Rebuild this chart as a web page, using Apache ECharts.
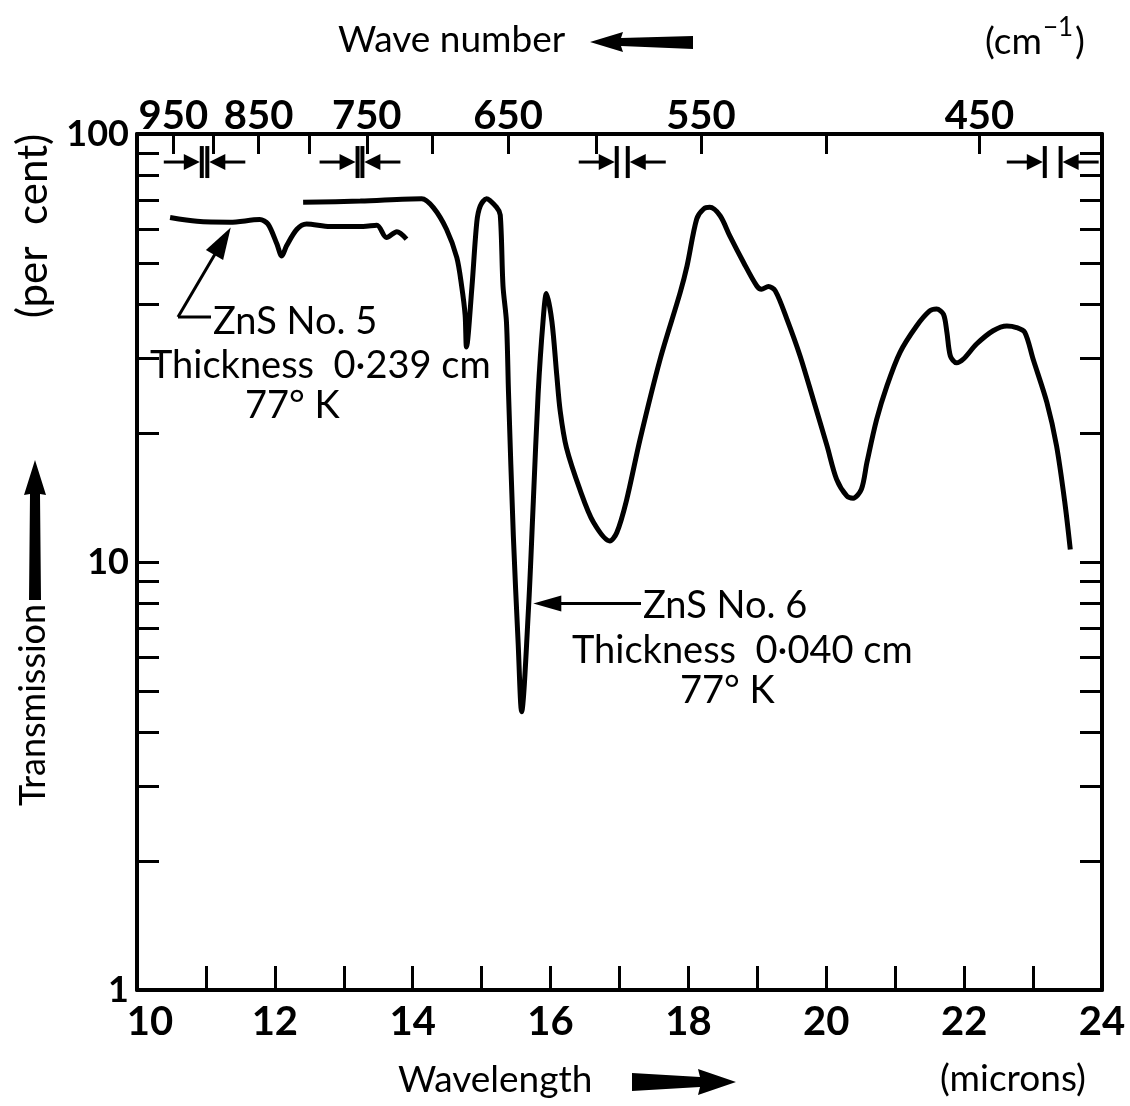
<!DOCTYPE html>
<html>
<head>
<meta charset="utf-8">
<title>ZnS transmission</title>
<script src="https://cdn.jsdelivr.net/npm/echarts@6/dist/echarts.min.js"></script>
<style>
  html, body { margin: 0; padding: 0; background: #fff; }
  #chart { width: 1130px; height: 1106px; }
</style>
</head>
<body>
<div id="chart"></div>
<script>
// wavelength in microns, transmission in per cent
const thickWave = [10.48, 10.87, 11.35, 11.78, 11.90, 12.03, 12.10, 12.17, 12.32, 12.46, 12.80, 13.28, 13.48, 13.62, 13.77, 13.91];
const thickTrans = [63.8, 62.5, 62.2, 63.1, 61.6, 55.3, 51.9, 54.8, 59.9, 61.6, 60.8, 60.8, 61.2, 57.3, 59.1, 56.8];

const thinWave = [12.41, 13.24, 14.13, 14.30, 14.49, 14.64, 14.71, 14.76, 14.78, 14.86, 14.93, 14.98, 15.07, 15.22, 15.27,
    15.31, 15.36, 15.39, 15.46, 15.53, 15.58, 15.68, 15.75, 15.82, 15.89, 15.94, 16.02, 16.09, 16.14, 16.23, 16.43, 16.62,
    16.86, 16.96, 17.10, 17.30, 17.59, 17.88, 17.98, 18.12, 18.22, 18.31, 18.46, 18.60, 18.80, 18.99, 19.06, 19.16, 19.26,
    19.43, 19.62, 19.81, 20.01, 20.15, 20.30, 20.39, 20.51, 20.59, 20.73, 20.88, 21.07, 21.31, 21.50, 21.60, 21.70, 21.75,
    21.80, 21.89, 21.99, 22.18, 22.42, 22.62, 22.76, 22.88, 23.00, 23.20, 23.34, 23.46, 23.54];
const thinTrans = [69.3, 69.7, 70.6, 67.3, 59.9, 51.4, 44.1, 37.8, 31.8, 44.1, 62.3, 67.9, 70.6, 67.3, 64.7,
    44.1, 36.4, 24.8, 11.5, 6.45, 4.47, 7.8, 13.9, 24.8, 36.4, 42.4, 36.4, 27.3, 22.5, 18.5, 14.7, 12.4,
    11.2, 11.7, 13.9, 19.4, 29.8, 42.6, 49.2, 63.3, 66.8, 67.4, 64.4, 57.8, 50.1, 44.2, 43.4, 44.0, 43.0,
    36.9, 30.3, 24.0, 18.7, 15.6, 14.25, 14.1, 14.8, 17.1, 21.5, 25.8, 30.9, 35.6, 38.6, 39.0, 37.9, 34.4,
    30.3, 29.2, 29.8, 32.3, 34.7, 35.6, 35.3, 34.4, 29.8, 23.6, 18.7, 13.8, 10.7];

const waveLabels = [10, 12, 14, 16, 18, 20, 22, 24];
const wavenumberTicks = [950, 900, 850, 800, 750, 700, 650, 600, 550, 500, 450];
const wavenumberLabels = [950, 850, 750, 650, 550, 450];
const transTicks = [1, 2, 3, 4, 5, 6, 7, 8, 9, 10, 20, 30, 40, 50, 60, 70, 80, 90, 100];
const transLabels = [1, 10, 100];
// grating change marks along the top (microns)
const changeMarks = [[10.94, 11.02], [13.20, 13.27], [16.96, 17.12], [23.17, 23.40]];

const font = 'Lato, "Noto Sans", sans-serif';

const zip = (xs, ys) => xs.map((x, i) => [x, ys[i]]);

let chart = echarts.init(document.getElementById('chart'));

const frameLine = { show: true, onZero: false, lineStyle: { color: '#000', width: 4 } };

let option = {
    animation: false,
    backgroundColor: '#fff',
    grid: { left: 137, top: 134, right: 28, bottom: 116 },
    xAxis: [
        {
            type: 'value',
            position: 'bottom',
            min: 10,
            max: 24,
            interval: 1,
            axisLine: frameLine,
            axisTick: { show: true, inside: true, length: 24, lineStyle: { color: '#000', width: 3 } },
            axisLabel: {
                customValues: waveLabels,
                color: '#000',
                fontFamily: font,
                fontWeight: 'bold',
                fontSize: 40,
                margin: 12,
                formatter: (v) => (v === 10 ? '{s|10}' : String(v)),
                rich: { s: { fontFamily: font, fontWeight: 'bold', fontSize: 40, padding: [0, 0, 0, 26] } },
            },
            splitLine: { show: false },
        },
        {
            type: 'value',
            position: 'top',
            min: 10,
            max: 24,
            axisLine: frameLine,
            axisTick: {
                show: true,
                inside: true,
                length: 20,
                customValues: wavenumberTicks.map((n) => 10000 / n),
                lineStyle: { color: '#000', width: 3 },
            },
            axisLabel: {
                customValues: wavenumberLabels.map((n) => 10000 / n),
                formatter: (v) => String(Math.round(10000 / v)),
                color: '#000',
                fontFamily: font,
                fontWeight: 'bold',
                fontSize: 40,
                margin: -2,
            },
            splitLine: { show: false },
        },
    ],
    yAxis: [
        {
            type: 'log',
            logBase: 10,
            min: 1,
            max: 100,
            position: 'left',
            axisLine: frameLine,
            axisTick: { show: true, inside: true, length: 22, customValues: transTicks, lineStyle: { color: '#000', width: 3 } },
            axisLabel: {
                customValues: transLabels,
                color: '#000',
                fontFamily: font,
                fontWeight: 'bold',
                fontSize: 36,
                margin: 8,
            },
            splitLine: { show: false },
        },
        {
            type: 'log',
            logBase: 10,
            min: 1,
            max: 100,
            position: 'right',
            axisLine: frameLine,
            axisTick: { show: true, inside: true, length: 22, customValues: transTicks, lineStyle: { color: '#000', width: 3 } },
            axisLabel: { show: false },
            splitLine: { show: false },
        },
    ],
    series: [
        {
            name: 'ZnS No. 5',
            type: 'line',
            data: zip(thickWave, thickTrans),
            showSymbol: false,
            smooth: 0.3,
            lineStyle: { color: '#000', width: 5 },
        },
        {
            name: 'ZnS No. 6',
            type: 'line',
            data: zip(thinWave, thinTrans),
            showSymbol: false,
            smooth: 0.3,
            lineStyle: { color: '#000', width: 5 },
        },
    ],
};

chart.setOption(option);

function toPx(x, t) {
    return chart.convertToPixel({ xAxisIndex: 0, yAxisIndex: 0 }, [x, t]);
}

function label(str, x, y, size, extra) {
    return {
        type: 'text',
        x: x,
        y: y,
        style: Object.assign(
            { text: str, fontSize: size, fontFamily: font, fill: '#000', textAlign: 'left', textVerticalAlign: 'middle' },
            extra || {}
        ),
    };
}

function seg(x1, y1, x2, y2, w) {
    return { type: 'line', shape: { x1, y1, x2, y2 }, style: { stroke: '#000', lineWidth: w || 3 } };
}

function poly(points) {
    return { type: 'polygon', shape: { points: points }, style: { fill: '#000' } };
}

let graphics = [];

// grating change marks
changeMarks.forEach((m) => {
    let a = toPx(m[0], 86);
    let b = toPx(m[1], 86);
    let y = a[1];
    graphics.push(seg(a[0], y - 16, a[0], y + 16, 4));
    graphics.push(seg(b[0], y - 16, b[0], y + 16, 4));
    graphics.push(seg(a[0] - 38, y, a[0] - 12, y, 3));
    graphics.push(poly([[a[0] - 2, y], [a[0] - 18, y - 8], [a[0] - 18, y + 8]]));
    graphics.push(seg(b[0] + 38, y, b[0] + 12, y, 3));
    graphics.push(poly([[b[0] + 2, y], [b[0] + 18, y - 8], [b[0] + 18, y + 8]]));
});

// ZnS No. 5 leader
let tip5 = toPx(11.36, 60.5);
let knee5 = [178, 317];
{
    let dx = tip5[0] - knee5[0];
    let dy = tip5[1] - knee5[1];
    let len = Math.sqrt(dx * dx + dy * dy);
    let ux = dx / len;
    let uy = dy / len;
    let bx = tip5[0] - ux * 32;
    let by = tip5[1] - uy * 32;
    graphics.push(seg(knee5[0], knee5[1], bx + ux * 4, by + uy * 4, 3));
    graphics.push(poly([[tip5[0], tip5[1]], [bx - uy * 10, by + ux * 10], [bx + uy * 10, by - ux * 10]]));
}
graphics.push(seg(knee5[0], knee5[1], 211, knee5[1], 3));
graphics.push(label('ZnS No. 5', 213, 322, 38));
graphics.push(label('Thickness  0·239 cm', 150, 366, 38));
graphics.push(label('77° K', 245, 406, 38));

// ZnS No. 6 leader
let tip6 = toPx(15.75, 8.0);
graphics.push(seg(tip6[0] + 20, tip6[1], 641, tip6[1], 3));
graphics.push(poly([[tip6[0], tip6[1]], [tip6[0] + 28, tip6[1] - 8], [tip6[0] + 28, tip6[1] + 8]]));
graphics.push(label('ZnS No. 6', 643, 606, 38));
graphics.push(label('Thickness  0·040 cm', 572, 651, 38));
graphics.push(label('77° K', 680, 691, 38));

// axis titles
graphics.push(label('Wave number', 338, 40, 37));
graphics.push(poly([[590, 42], [623, 32], [621, 38], [693, 36], [693, 49], [621, 46], [623, 52]]));
graphics.push(label('(cm', 985, 42, 37));
graphics.push(label('−1', 1043, 28, 26));
graphics.push(label(')', 1075, 42, 37));

graphics.push(label('Wavelength', 398, 1080, 37));
graphics.push(poly([[632, 1073], [700, 1077], [698, 1069], [736, 1082], [698, 1095], [700, 1087], [632, 1091]]));
graphics.push(label('(microns)', 940, 1079, 37));

graphics.push({
    type: 'text',
    x: 33,
    y: 705,
    rotation: Math.PI / 2,
    style: { text: 'Transmission', fontSize: 36, fontFamily: font, fill: '#000', textAlign: 'center', textVerticalAlign: 'middle' },
});
graphics.push(poly([[35, 460], [46, 495], [40, 494], [41, 600], [29, 600], [30, 494], [24, 495]]));
graphics.push({
    type: 'text',
    x: 33,
    y: 226,
    rotation: Math.PI / 2,
    style: { text: '(per  cent)', fontSize: 42, fontFamily: font, fill: '#000', textAlign: 'center', textVerticalAlign: 'middle' },
});

chart.setOption({ graphic: { elements: graphics } });
</script>
</body>
</html>
